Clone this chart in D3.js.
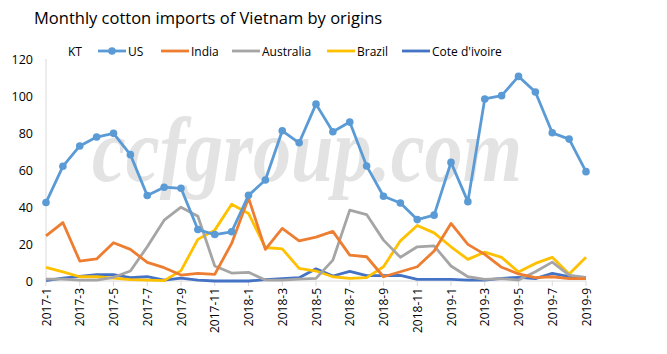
<!DOCTYPE html>
<html>
<head>
<meta charset="utf-8">
<script src="https://cdnjs.cloudflare.com/ajax/libs/d3/7.8.5/d3.min.js"></script>
<style>
  body { margin: 0; background: #fff; }
  svg text { font-family: "Open Sans", "Noto Sans", sans-serif; }
</style>
</head>
<body>
<svg id="chart" width="667" height="354"></svg>
<script>
// months 2017-1 .. 2019-9
var months = [];
for (var y = 2017; y <= 2019; y++) {
  for (var m = 1; m <= 12; m++) {
    if (y === 2019 && m > 9) break;
    months.push(y + "-" + m);
  }
}
var tickLabels = months.filter(function(d, i) { return i % 2 === 0; });

var us = [42.4, 62, 73, 77.8, 79.8, 68.3, 46.2, 50.7, 50.1, 27.8, 25.1, 26.6,
          46.3, 54.6, 81.2, 74.7, 95.6, 80.7, 85.9, 62.2, 45.8, 42.2, 33.2, 35.6,
          64.1, 42.9, 98.4, 100.2, 110.6, 102.2, 80.1, 76.7, 59.1];
var india = [24.4, 31.6, 10.8, 11.9, 20.7, 17.1, 10.1, 7.2, 3.2, 4.1, 3.6, 20.3,
             44.9, 17.1, 28.4, 21.7, 23.7, 26.8, 14, 13.1, 2.3, 5, 7.7, 16.2,
             31.1, 19.8, 14.4, 7.4, 3.8, 1.8, 2.3, 1.3, 1.3];
var australia = [1, 1, 0.5, 0.5, 2, 5.4, 18.5, 32.9, 39.9, 35, 8.1, 4.3,
                 4.7, 0.5, 0.5, 1, 1.4, 11.3, 38.3, 35.9, 22.1, 12.8, 18.5, 19,
                 8.1, 2.3, 0.9, 1.3, 0.5, 5, 10.2, 3.2, 1.8];
var brazil = [7.4, 4.9, 2.3, 2.3, 1.6, 0.7, 0.5, 0.2, 5.6, 22.5, 27.5, 41.5,
              36.5, 18.1, 17.4, 6.8, 5.4, 2.3, 1.4, 1.8, 7.7, 21.7, 30, 26,
              18.5, 11.7, 15.6, 12.8, 4.9, 9.5, 12.8, 3.8, 12.8];
var cote = [0.2, 1.6, 2.5, 3.4, 3.4, 1.8, 2.3, 0.5, 1.6, 0.5, 0, 0,
            0, 0.7, 1.3, 1.8, 6.6, 2.7, 5.2, 2.9, 2.9, 3, 0.9, 0.9,
            0.9, 0.5, 0.5, 1.4, 2, 1.3, 4.1, 2.3, 2];
var yTicks = [0, 20, 40, 60, 80, 100, 120];

var seriesNames = ["US", "India", "Australia", "Brazil", "Cote d'ivoire"];
var seriesData = [us, india, australia, brazil, cote];
var colors = ["#5B9BD5", "#ED7D31", "#A5A5A5", "#FFC000", "#4472C4"];

var svg = d3.select("#chart");

var x = d3.scalePoint().domain(months).range([46, 586]);
var yScale = d3.scaleLinear().domain([0, 120]).range([281, 59]);

// watermark
svg.append("text")
  .attr("x", 92)
  .attr("y", 181)
  .attr("textLength", 430)
  .attr("lengthAdjust", "spacingAndGlyphs")
  .style("font-family", "'Liberation Serif', 'DejaVu Serif', serif")
  .style("font-style", "italic")
  .style("font-weight", "bold")
  .style("font-size", "90px")
  .attr("fill", "#e3e3e3")
  .text("ccfgroup.com");

// title
svg.append("text")
  .attr("x", 34)
  .attr("y", 24)
  .style("font-size", "16.5px")
  .attr("fill", "#000")
  .text("Monthly cotton imports of Vietnam by origins");

// y axis labels
svg.selectAll(".ylab")
  .data(yTicks)
  .enter()
  .append("text")
    .attr("class", "ylab")
    .attr("x", 33)
    .attr("y", d => yScale(d) + 4.5)
    .attr("text-anchor", "end")
    .style("font-size", "12.5px")
    .attr("fill", "#000")
    .text(d => d);

// axis lines
svg.append("line")
  .attr("x1", 46).attr("x2", 46)
  .attr("y1", yScale(120)).attr("y2", yScale(0))
  .attr("stroke", "#d9d9d9");
svg.append("line")
  .attr("x1", 46).attr("x2", 586)
  .attr("y1", yScale(0)).attr("y2", yScale(0))
  .attr("stroke", "#d9d9d9");
svg.selectAll(".xtick")
  .data(tickLabels)
  .enter()
  .append("line")
    .attr("x1", d => x(d)).attr("x2", d => x(d))
    .attr("y1", yScale(0)).attr("y2", yScale(0) + 5)
    .attr("stroke", "#d9d9d9");

// x labels, rotated
svg.selectAll(".xlab")
  .data(tickLabels)
  .enter()
  .append("text")
    .attr("class", "xlab")
    .attr("transform", d => "translate(" + (x(d) + 4.5) + "," + (yScale(0) + 7) + ") rotate(-90)")
    .attr("text-anchor", "end")
    .style("font-size", "12px")
    .attr("fill", "#000")
    .text(d => d);

var line = d3.line()
  .x((d, i) => x(months[i]))
  .y(d => yScale(d));

// draw in reverse so US sits on top
for (var s = seriesData.length - 1; s >= 0; s--) {
  svg.append("path")
    .datum(seriesData[s])
    .attr("fill", "none")
    .attr("stroke", colors[s])
    .attr("stroke-width", 2.8)
    .attr("stroke-linejoin", "round")
    .attr("d", line);
}

svg.selectAll(".dot")
  .data(us)
  .enter()
  .append("circle")
    .attr("cx", (d, i) => x(months[i]))
    .attr("cy", d => yScale(d))
    .attr("r", 3.8)
    .attr("fill", colors[0]);

// legend
svg.append("text")
  .attr("x", 68)
  .attr("y", 56)
  .style("font-size", "12px")
  .attr("fill", "#000")
  .text("KT");

var legendX = [98, 161, 232, 327, 402];
var legend = svg.selectAll(".leg")
  .data(seriesNames)
  .enter()
  .append("g")
    .attr("transform", (d, i) => "translate(" + legendX[i] + ",51)");

legend.append("line")
  .attr("x1", 0).attr("x2", 28)
  .attr("y1", 0).attr("y2", 0)
  .attr("stroke", (d, i) => colors[i])
  .attr("stroke-width", 2.8);

legend.filter((d, i) => i === 0)
  .append("circle")
  .attr("cx", 14).attr("cy", 0).attr("r", 3.8)
  .attr("fill", colors[0]);

legend.append("text")
  .attr("x", 30)
  .attr("y", 4.5)
  .style("font-size", "12px")
  .attr("fill", "#000")
  .text(d => d);
</script>
</body>
</html>
